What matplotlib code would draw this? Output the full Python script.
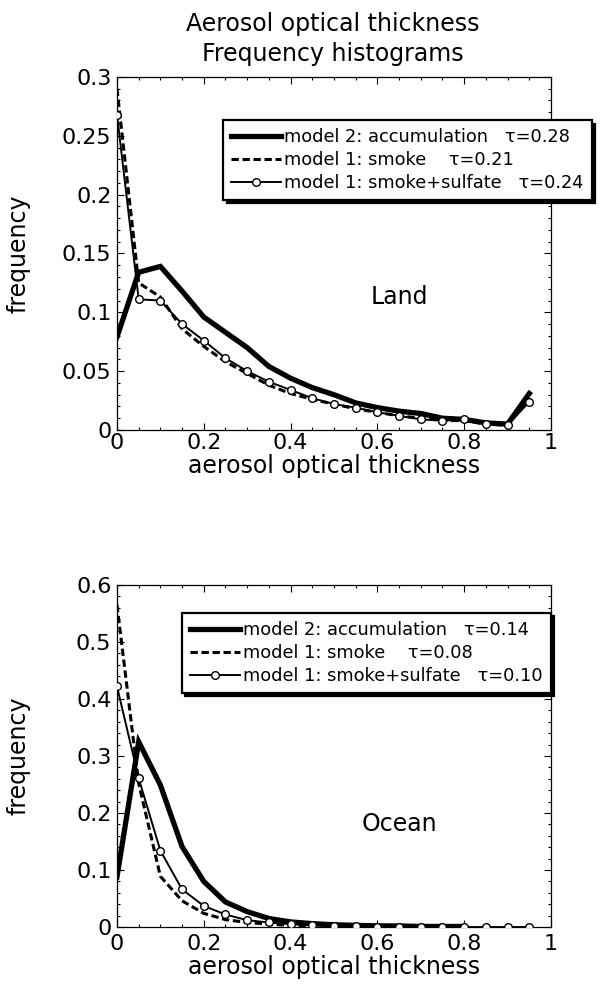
import numpy as np
import matplotlib
matplotlib.use('Agg')
import matplotlib.pyplot as plt
from matplotlib.ticker import MultipleLocator, FuncFormatter

plt.rcParams['font.family'] = ['DejaVu Sans']

# bin centres (aerosol optical thickness)
tau_bins = [0.0, 0.05, 0.10, 0.15, 0.20, 0.25, 0.30, 0.35, 0.40, 0.45,
            0.50, 0.55, 0.60, 0.65, 0.70, 0.75, 0.80, 0.85, 0.90, 0.95]

# land
land_accum = [0.079, 0.134, 0.139, 0.118, 0.096, 0.083, 0.070, 0.054, 0.044, 0.036,
              0.030, 0.023, 0.019, 0.016, 0.014, 0.010, 0.009, 0.006, 0.005, 0.031]
land_smoke = [0.290, 0.125, 0.113, 0.086, 0.071, 0.058, 0.048, 0.038, 0.031, 0.026,
              0.022, 0.018, 0.015, 0.012, 0.010, 0.008, 0.008, 0.005, 0.004, 0.027]
land_smoke_sulf = [0.268, 0.111, 0.110, 0.090, 0.076, 0.061, 0.050, 0.041, 0.034, 0.027,
                   0.022, 0.019, 0.015, 0.012, 0.009, 0.008, 0.009, 0.005, 0.004, 0.024]

# ocean (accumulation and smoke curves end at 0.8)
ocean_accum = [0.088, 0.325, 0.249, 0.141, 0.080, 0.044, 0.027, 0.015, 0.009, 0.006,
               0.004, 0.003, 0.002, 0.002, 0.001, 0.001, 0.001]
ocean_smoke = [0.565, 0.252, 0.089, 0.046, 0.024, 0.013, 0.008, 0.005, 0.003, 0.002,
               0.002, 0.001, 0.001, 0.001, 0.001, 0.001, 0.001]
ocean_smoke_sulf = [0.422, 0.261, 0.134, 0.066, 0.037, 0.022, 0.012, 0.008, 0.005, 0.003,
                    0.002, 0.001, 0.0, 0.0, 0.0, 0.0, 0.0, 0.0, 0.0, 0.0]

land_labels = ['model 2: accumulation   \u03c4=0.28',
               'model 1: smoke    \u03c4=0.21',
               'model 1: smoke+sulfate   \u03c4=0.24']
ocean_labels = ['model 2: accumulation   \u03c4=0.14',
                'model 1: smoke    \u03c4=0.08',
                'model 1: smoke+sulfate   \u03c4=0.10']

fig = plt.figure(figsize=(6.08, 9.88), dpi=100)
ax1 = fig.add_axes([0.1924, 0.5648, 0.7138, 0.3573])
ax2 = fig.add_axes([0.1924, 0.0617, 0.7138, 0.3462])

fmt = FuncFormatter(lambda v, p: '%g' % round(v, 3))


def draw(ax, accum, smoke, sulf, labels, ymax, ymajor, yminor, name, name_y, leg_xy,
         xpad, xlabelpad):
    n1 = len(accum)
    n2 = len(smoke)
    ax.plot(tau_bins[:n1], accum, color='black', lw=3.8, solid_joinstyle='miter',
            label=labels[0], zorder=3)
    ax.plot(tau_bins[:n2], smoke, color='black', lw=2.2, dashes=(2.4, 1.2),
            label=labels[1], zorder=3)
    ax.plot(tau_bins[:len(sulf)], sulf, color='black', lw=1.4, marker='o', ms=5.5,
            mfc='white', mec='black', mew=1.0, label=labels[2], zorder=4)
    ax.set_xlim(0, 1)
    ax.set_ylim(0, ymax)
    ax.xaxis.set_major_locator(MultipleLocator(0.2))
    ax.xaxis.set_minor_locator(MultipleLocator(0.05))
    ax.yaxis.set_major_locator(MultipleLocator(ymajor))
    ax.yaxis.set_minor_locator(MultipleLocator(yminor))
    ax.xaxis.set_major_formatter(fmt)
    ax.yaxis.set_major_formatter(fmt)
    ax.tick_params(which='both', direction='in', top=True, right=True,
                   labelsize=16, width=0.8)
    ax.tick_params(which='major', length=5)
    ax.tick_params(which='minor', length=2.5)
    ax.tick_params(axis='x', which='major', pad=xpad)
    ax.tick_params(axis='y', which='major', pad=4)
    for s in ax.spines.values():
        s.set_linewidth(0.9)
    ax.set_xlabel('aerosol optical thickness', fontsize=17, labelpad=xlabelpad)
    ax.set_ylabel('frequency', fontsize=17)
    ax.yaxis.set_label_coords(-0.2, 0.5)
    ax.text(0.65, name_y, name, fontsize=17, ha='center', va='center')
    leg = ax.legend(loc='upper left', bbox_to_anchor=leg_xy, bbox_transform=fig.transFigure,
                    borderaxespad=0, fancybox=False, framealpha=1, edgecolor='black',
                    fontsize=12.8, handlelength=2.8, handletextpad=0.2,
                    labelspacing=0.28, borderpad=0.45,
                    shadow={'color': 'black', 'alpha': 1, 'ox': 2.5, 'oy': -2.5})
    leg.get_frame().set_linewidth(1.6)
    leg.set_zorder(10)


draw(ax1, land_accum, land_smoke, land_smoke_sulf, land_labels, 0.3, 0.05, 0.01,
     'Land', 0.113, (0.367, 0.8785), 2, 1)
draw(ax2, ocean_accum, ocean_smoke, ocean_smoke_sulf, ocean_labels, 0.6, 0.1, 0.02,
     'Ocean', 0.18, (0.299, 0.3796), 5, 0.5)

fig.text(0.548, 0.976, 'Aerosol optical thickness', fontsize=17, ha='center', va='center')
fig.text(0.548, 0.945, 'Frequency histograms', fontsize=17, ha='center', va='center')

fig.savefig('out.png', dpi=100)
